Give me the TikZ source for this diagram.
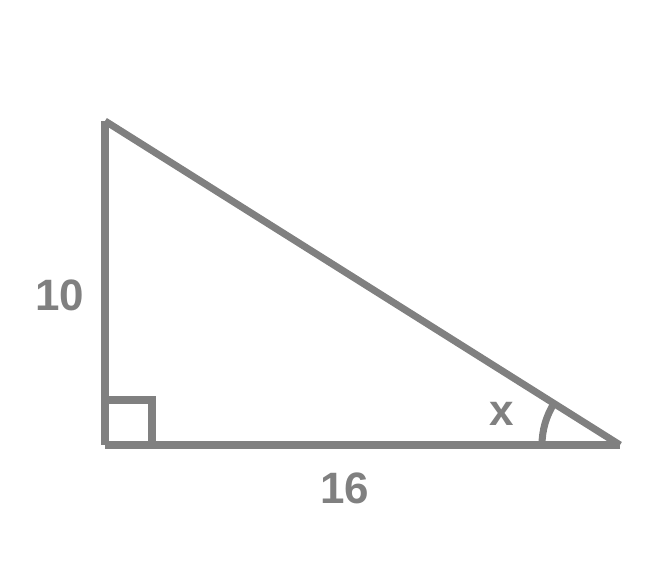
\documentclass[tikz,border=0pt]{standalone}
\usepackage{fontspec}
\setmainfont{Liberation Sans}
\definecolor{edgegray}{RGB}{128,128,128}
\begin{document}
\begin{tikzpicture}[x=0.03cm,y=0.03cm]
        \useasboundingbox (0,0) rectangle (668,576);
        \tikzset{side/.style={draw=edgegray,line width=6pt},
                 lbl/.style={text=edgegray,font=\fontsize{37.5}{42}\selectfont\bfseries,inner sep=0pt}}

        \coordinate (A) at (105,455);
        \coordinate (B) at (105,131);
        \coordinate (C) at (620,131);

        \path[side] (A) -- (B);
        \path[side] (B) -- (C);
        \path[side] (A) -- (C);

        \path[side] (105,176) -| (152,131);
        \path[side] (C) ++(180:78) arc[start angle=180, end angle=147.8, radius=78];

        \node[lbl] (a) at (60,281) {10};
        \node[lbl] (b) at (345,88) {16};
        \node[lbl] (x) at (502,162) {x};
    \end{tikzpicture}
\end{document}
